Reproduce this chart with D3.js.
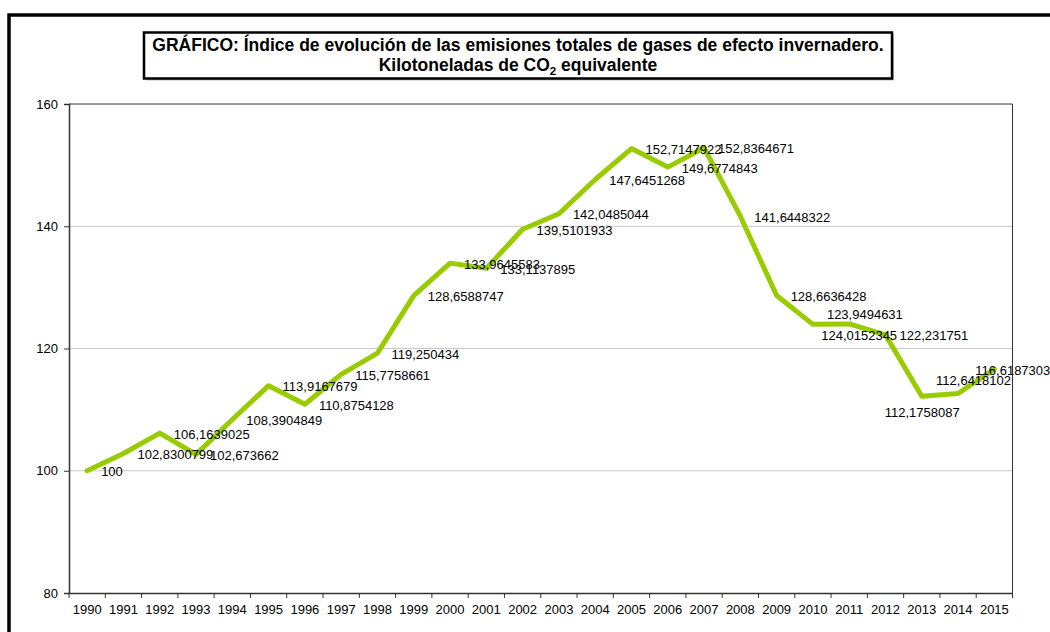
<!DOCTYPE html>
<html>
<head>
<meta charset="utf-8">
<script src="https://cdn.jsdelivr.net/npm/d3@7"></script>
<style>
  body { margin: 0; background: #fff; }
  svg { display: block; font-family: "Liberation Sans", Arial, sans-serif; }
</style>
</head>
<body>
<div id="chart"></div>
<script>

// data
var years = ["1990","1991","1992","1993","1994","1995","1996","1997","1998","1999","2000","2001","2002",
             "2003","2004","2005","2006","2007","2008","2009","2010","2011","2012","2013","2014","2015"]
var indexValues = [100, 102.8300799, 106.1639025, 102.673662, 108.3904849, 113.9167679, 110.8754128,
                   115.7758661, 119.250434, 128.6588747, 133.9645583, 133.1137895, 139.5101933,
                   142.0485044, 147.6451268, 152.7147922, 149.6774843, 152.8364671, 141.6448322,
                   128.6636428, 123.9494631, 124.0152345, 122.231751, 112.1758087, 112.6418102, 116.6187303]
var yTicks = [80, 100, 120, 140, 160]

// most labels sit right of the point, a few were moved by hand in the original
var labelShift = {20: [14, -10], 21: [-28, 11], 23: [-37, 16], 24: [-22, -13], 25: [-19, 1]}

var width = 1050,
    height = 632,
    plot = {left: 69, right: 1012.5, top: 104, bottom: 593}

var svg = d3.select("#chart")
  .append("svg")
  .attr("width", width)
  .attr("height", height)

// outer frame (runs off the right and bottom edges)
svg.append("rect")
  .attr("x", 9).attr("y", 15)
  .attr("width", 1100).attr("height", 700)
  .attr("fill", "none")
  .attr("stroke", "#000")
  .attr("stroke-width", 3.5)

// title box
svg.append("rect")
  .attr("x", 146).attr("y", 34.5)
  .attr("width", 748).attr("height", 46)
  .attr("fill", "#bbb")
svg.append("rect")
  .attr("x", 144).attr("y", 32.5)
  .attr("width", 748).attr("height", 46)
  .attr("fill", "#fff")
  .attr("stroke", "#000")
  .attr("stroke-width", 2.5)

svg.append("text")
  .attr("x", 518).attr("y", 51)
  .attr("text-anchor", "middle")
  .attr("font-size", 17.5)
  .attr("font-weight", "bold")
  .text("GRÁFICO: Índice de evolución de las emisiones totales de gases de efecto invernadero.")

var t2 = svg.append("text")
  .attr("x", 518).attr("y", 71)
  .attr("text-anchor", "middle")
  .attr("font-size", 17.5)
  .attr("font-weight", "bold")
t2.append("tspan").text("Kilotoneladas de CO")
t2.append("tspan").attr("font-size", 11.5).attr("dy", 4).text("2")
t2.append("tspan").attr("dy", -4).text(" equivalente")

// scales
var x = d3.scaleBand()
  .domain(years)
  .range([plot.left, plot.right])

var y = d3.scaleLinear()
  .domain([80, 160])
  .range([plot.bottom, plot.top])

// gridlines
svg.append("g")
  .selectAll("line")
  .data(yTicks.filter(function(d) { return d > 80 && d < 160 }))
  .enter()
  .append("line")
  .attr("x1", plot.left).attr("x2", plot.right)
  .attr("y1", function(d) { return y(d) }).attr("y2", function(d) { return y(d) })
  .attr("stroke", "#c8c8c8")
  .attr("stroke-width", 1)

// plot border top + right
svg.append("path")
  .attr("d", "M" + plot.left + "," + plot.top + "H" + plot.right + "V" + plot.bottom)
  .attr("fill", "none")
  .attr("stroke", "#333")
  .attr("stroke-width", 1)

// axes
var yAxis = svg.append("g")
  .attr("transform", "translate(" + plot.left + ",0)")
  .call(d3.axisLeft(y).tickValues(yTicks).tickSize(5).tickPadding(6))
yAxis.select(".domain").attr("stroke", "#333").attr("stroke-width", 1.5)
yAxis.selectAll(".tick line").attr("stroke", "#333")
yAxis.selectAll("text")
  .attr("font-size", 13)
  .attr("font-family", "Liberation Sans, Arial, sans-serif")
  .attr("fill", "#000")

var xAxis = svg.append("g")
  .attr("transform", "translate(0," + plot.bottom + ")")
  .call(d3.axisBottom(x).tickSize(0).tickPadding(12))
xAxis.select(".domain").attr("stroke", "#333").attr("stroke-width", 1.5)
xAxis.selectAll("text")
  .attr("font-size", 13)
  .attr("font-family", "Liberation Sans, Arial, sans-serif")
  .attr("fill", "#000")

// tick marks between categories
svg.append("g")
  .selectAll("line")
  .data(years.concat(["end"]))
  .enter()
  .append("line")
  .attr("x1", function(d, i) { return plot.left + i * x.step() })
  .attr("x2", function(d, i) { return plot.left + i * x.step() })
  .attr("y1", plot.bottom).attr("y2", plot.bottom + 5)
  .attr("stroke", "#333")

// the line
var line = d3.line()
  .x(function(d, i) { return x(years[i]) + x.bandwidth() / 2 })
  .y(function(d) { return y(d) })

svg.append("path")
  .datum(indexValues)
  .attr("d", line)
  .attr("fill", "none")
  .attr("stroke", "#99cc00")
  .attr("stroke-width", 5)
  .attr("stroke-linejoin", "round")
  .attr("stroke-linecap", "round")

// data labels
svg.append("g")
  .selectAll("text")
  .data(indexValues)
  .enter()
  .append("text")
  .attr("x", function(d, i) {
    var s = labelShift[i] || [14, 1]
    return x(years[i]) + x.bandwidth() / 2 + s[0]
  })
  .attr("y", function(d, i) {
    var s = labelShift[i] || [14, 1]
    return y(d) + s[1]
  })
  .attr("dy", "0.35em")
  .attr("font-size", 13)
  .attr("fill", "#000")
  .text(function(d) { return String(d).replace(".", ",") })

</script>
</body>
</html>
